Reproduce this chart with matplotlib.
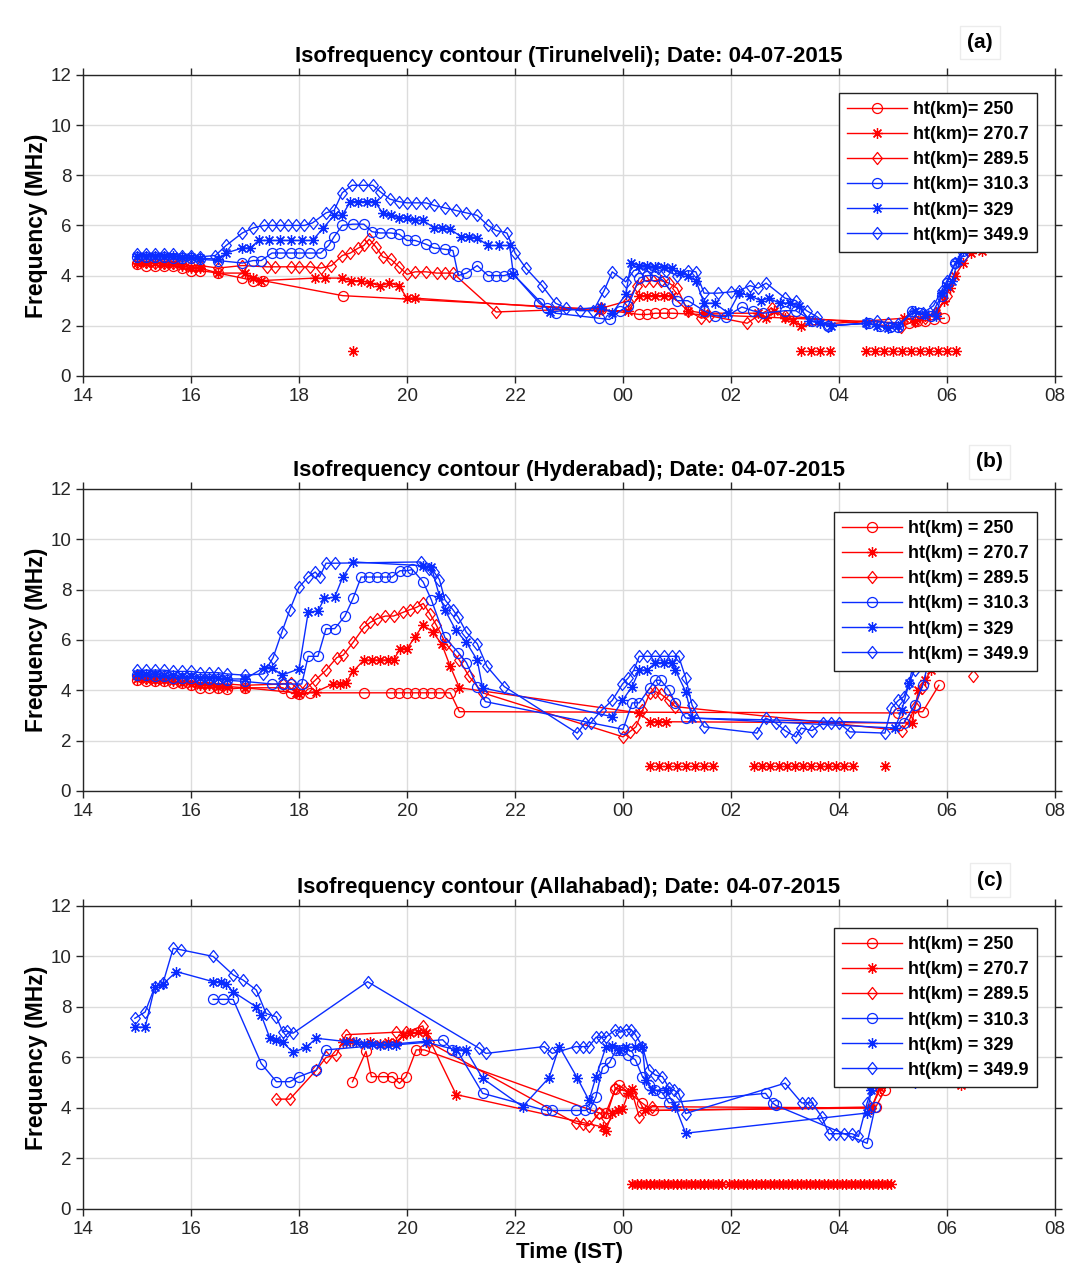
# Isofrequency contour plots for three stations, 04-07-2015
# three stacked panels, red = lower heights, blue = upper heights
##################################

# IMPORT STATEMENTS
##################################
import numpy as np
import matplotlib.pyplot as plt
from matplotlib.path import Path

# GLOBAL VARIABLES
###################################
RED = "#ff0000"
BLUE = "#0a2cff"
HEIGHTS = ["250", "270.7", "289.5", "310.3", "329", "349.9"]
XTICKS = [14, 16, 18, 20, 22, 24, 26, 28, 30, 32]
XTICKLABELS = ["14", "16", "18", "20", "22", "00", "02", "04", "06", "08"]
NAN = np.nan

# ---- panel (a) Tirunelveli ----
a_t250 = [15.0, 15.17, 15.33, 15.5, 15.67, 15.83, 16.0, 16.17, 16.5, 16.95, 17.15, 17.33, 18.81, 23.6,
          24.3, 24.45, 24.6, 24.75, 24.9, 29.3, 29.45, 29.6, 29.75, 29.95]
a_f250 = [4.45, 4.4, 4.4, 4.4, 4.4, 4.3, 4.2, 4.2, 4.1, 3.9, 3.8, 3.8, 3.2, 2.65,
          2.45, 2.45, 2.5, 2.5, 2.5, 2.1, 2.2, 2.2, 2.25, 2.3]
a_t270 = [15.0, 15.17, 15.33, 15.5, 15.67, 15.83, 16.0, 16.17, 16.5, 17.0, 17.15, 17.3, 18.3, 18.48,
          18.8, 18.97, 19.15, 19.32, 19.5, 19.67, 19.85, 20.0, 20.15, 23.55, 24.1, 24.3, 24.45, 24.6,
          24.75, 24.9, 25.2, 25.5, 26.5, 26.65, 26.8, 27.0, 27.15, 27.3, 29.2, 29.4, 29.6, 29.8,
          29.95, 30.05, 30.15, 30.3, 30.45, 30.65]
a_f270 = [4.5, 4.5, 4.5, 4.45, 4.45, 4.4, 4.3, 4.3, 4.1, 4.1, 3.9, 3.8, 3.9, 3.9,
          3.9, 3.8, 3.8, 3.7, 3.6, 3.7, 3.6, 3.1, 3.1, 2.6, 2.6, 3.2, 3.2, 3.2,
          3.2, 3.2, 2.6, 2.5, 2.5, 2.3, 2.6, 2.3, 2.2, 2.0, 2.3, 2.2, 2.4, 2.5,
          3.0, 3.5, 4.0, 4.5, 4.9, 5.0]
a_t289 = [15.0, 15.17, 15.33, 15.5, 15.67, 15.83, 16.0, 16.17, 16.5, 16.95, 17.4, 17.55, 17.85, 18.0,
          18.2, 18.4, 18.6, 18.8, 18.95, 19.1, 19.2, 19.3, 19.42, 19.55, 19.7, 19.85, 20.0, 20.15,
          20.35, 20.55, 20.7, 20.85, 21.65, 23.6, 24.1, 24.25, 24.4, 24.55, 24.7, 24.85, 25.0, 25.2,
          25.45, 25.6, 26.3, 26.5, 26.75, 27.0, 29.15, 29.4, 29.6, 29.8, 30.0]
a_f289 = [4.55, 4.55, 4.5, 4.5, 4.5, 4.45, 4.4, 4.4, 4.3, 4.4, 4.35, 4.35, 4.35, 4.35,
          4.35, 4.3, 4.4, 4.8, 4.9, 5.1, 5.2, 5.45, 5.15, 4.75, 4.65, 4.35, 4.05, 4.15,
          4.15, 4.1, 4.1, 4.1, 2.55, 2.7, 3.0, 3.6, 3.8, 3.8, 3.8, 3.7, 3.5, 2.6,
          2.3, 2.4, 2.1, 2.4, 2.7, 2.4, 1.95, 2.2, 2.3, 2.5, 3.2]
a_t310 = [15.0, 15.17, 15.33, 15.5, 15.67, 15.83, 16.0, 16.17, 16.5, 16.95, 17.15, 17.3, 17.5, 17.65,
          17.85, 18.0, 18.2, 18.4, 18.55, 18.65, 18.8, 19.0, 19.2, 19.35, 19.5, 19.7, 19.85, 20.0,
          20.15, 20.35, 20.5, 20.7, 20.85, 20.95, 21.1, 21.3, 21.5, 21.65, 21.8, 21.95, 22.45, 22.6,
          22.75, 23.55, 23.75, 23.95, 24.1, 24.3, 24.45, 24.6, 24.75, 25.0, 25.2, 25.5, 25.7, 25.9,
          26.2, 26.4, 26.6, 27.0, 27.2, 27.5, 27.8, 28.55, 28.75, 28.95, 29.1, 29.35, 29.5, 29.7,
          29.9, 30.0, 30.15, 30.3]
a_f310 = [4.75, 4.75, 4.75, 4.75, 4.7, 4.7, 4.7, 4.65, 4.6, 4.5, 4.6, 4.6, 4.9, 4.9,
          4.9, 4.9, 4.9, 4.9, 5.2, 5.55, 6.0, 6.05, 6.05, 5.75, 5.7, 5.7, 5.65, 5.4,
          5.4, 5.25, 5.1, 5.05, 5.0, 4.0, 4.1, 4.4, 4.0, 4.0, 4.0, 4.1, 2.9, 2.7,
          2.5, 2.3, 2.25, 2.6, 2.8, 3.9, 4.0, 4.0, 3.8, 3.0, 3.0, 2.6, 2.4, 2.35,
          2.75, 2.6, 2.5, 2.6, 2.6, 2.2, 2.0, 2.1, 2.0, 1.95, 1.95, 2.6, 2.5, 2.4,
          3.2, 3.7, 4.5, 5.0]
a_t329 = [15.0, 15.17, 15.33, 15.5, 15.67, 15.83, 16.0, 16.17, 16.5, 16.65, 16.95, 17.1, 17.25, 17.45,
          17.65, 17.85, 18.05, 18.25, 18.45, 18.65, 18.8, 18.95, 19.1, 19.25, 19.4, 19.55, 19.7, 19.85,
          20.0, 20.15, 20.3, 20.5, 20.65, 20.8, 21.0, 21.15, 21.3, 21.5, 21.7, 21.9, 21.97, 22.65,
          23.6, 23.8, 24.05, 24.15, 24.3, 24.45, 24.6, 24.75, 24.9, 25.05, 25.2, 25.35, 25.5, 25.7,
          25.95, 26.15, 26.35, 26.55, 26.7, 26.9, 27.1, 27.25, 27.45, 27.65, 27.85, 28.5, 28.7, 28.9,
          29.1, 29.4, 29.6, 29.8, 29.9, 30.0, 30.1, 30.2, 30.3]
a_f329 = [4.8, 4.8, 4.8, 4.8, 4.8, 4.75, 4.75, 4.7, 4.65, 4.9, 5.1, 5.1, 5.4, 5.4,
          5.4, 5.4, 5.4, 5.4, 5.9, 6.4, 6.4, 6.95, 6.95, 6.95, 6.95, 6.5, 6.4, 6.3,
          6.3, 6.2, 6.2, 5.9, 5.9, 5.85, 5.55, 5.55, 5.5, 5.2, 5.2, 5.2, 4.05, 2.55,
          2.75, 2.5, 3.25, 4.5, 4.4, 4.4, 4.35, 4.35, 4.3, 4.1, 4.0, 3.8, 2.9, 2.9,
          2.5, 3.3, 3.2, 3.0, 3.1, 2.9, 2.9, 2.8, 2.2, 2.1, 2.0, 2.1, 2.0, 1.9,
          2.0, 2.6, 2.45, 2.4, 3.3, 3.6, 3.8, 4.6, 5.0]
a_t349 = [15.0, 15.17, 15.33, 15.5, 15.67, 15.83, 16.0, 16.17, 16.45, 16.65, 16.95, 17.15, 17.35, 17.5,
          17.65, 17.8, 17.95, 18.1, 18.25, 18.5, 18.65, 18.8, 18.98, 19.18, 19.37, 19.5, 19.68, 19.85,
          20.0, 20.17, 20.35, 20.5, 20.7, 20.9, 21.1, 21.3, 21.5, 21.65, 21.85, 22.0, 22.2, 22.5,
          22.75, 22.95, 23.2, 23.45, 23.65, 23.8, 24.05, 24.2, 24.35, 24.5, 24.65, 24.8, 25.0, 25.2,
          25.35, 25.5, 25.75, 26.0, 26.15, 26.35, 26.5, 26.65, 27.0, 27.2, 27.4, 27.6, 27.8, 28.5,
          28.7, 28.9, 29.1, 29.35, 29.55, 29.75, 29.9, 30.0, 30.15, 30.3]
a_f349 = [4.85, 4.85, 4.85, 4.85, 4.85, 4.8, 4.8, 4.75, 4.8, 5.2, 5.7, 5.9, 6.0, 6.0,
          6.0, 6.0, 6.0, 6.0, 6.1, 6.5, 6.6, 7.3, 7.6, 7.6, 7.6, 7.35, 7.05, 6.95,
          6.9, 6.9, 6.9, 6.8, 6.7, 6.6, 6.5, 6.4, 6.0, 5.8, 5.7, 4.9, 4.3, 3.6,
          2.9, 2.7, 2.6, 2.6, 3.4, 4.15, 3.75, 4.2, 4.3, 4.3, 4.3, 4.2, 4.0, 4.2,
          4.15, 3.3, 3.3, 3.35, 3.4, 3.6, 3.5, 3.7, 3.1, 3.0, 2.6, 2.35, 2.0, 2.1,
          2.2, 2.1, 2.05, 2.5, 2.5, 2.8, 3.4, 3.8, 4.5, 4.8]
a_tlow = [19.0, 27.3, 27.48, 27.65, 27.83, 28.5, 28.67, 28.83, 29.0, 29.17, 29.33, 29.5, 29.67,
          29.83, 30.0, 30.17]

# ---- panel (b) Hyderabad ----
b_t250 = [15.0, 15.17, 15.33, 15.5, 15.67, 15.83, 16.0, 16.17, 16.33, 16.5, 16.67, 17.0, 17.7, 17.85,
          18.0, 18.2, 19.2, 19.7, 19.85, 20.0, 20.15, 20.3, 20.45, 20.6, 20.8, 20.97, 29.1, 29.55, 29.85]
b_f250 = [4.4, 4.35, 4.35, 4.35, 4.3, 4.3, 4.2, 4.1, 4.1, 4.1, 4.05, 4.1, 4.1, 3.9,
          3.85, 3.9, 3.9, 3.9, 3.9, 3.9, 3.9, 3.9, 3.9, 3.9, 3.9, 3.15, 3.1, 3.15, 4.2]
b_t270 = [15.0, 15.17, 15.33, 15.5, 15.67, 15.83, 16.0, 16.17, 16.33, 16.5, 16.67, 17.0, 17.95, 18.0,
          18.32, 18.63, 18.75, 18.87, 19.0, 19.2, 19.35, 19.5, 19.65, 19.75, 19.87, 20.0, 20.14, 20.3,
          20.48, 20.64, 20.8, 20.97, 24.3, 24.5, 24.65, 24.8, 29.35, 29.47, 29.6, 29.7]
b_f270 = [4.45, 4.45, 4.4, 4.4, 4.35, 4.3, 4.25, 4.2, 4.2, 4.15, 4.15, 4.1, 3.9, 3.85,
          3.95, 4.25, 4.25, 4.3, 4.75, 5.2, 5.2, 5.2, 5.2, 5.2, 5.65, 5.65, 6.1, 6.6,
          6.3, 5.85, 4.95, 4.1, 3.1, 2.75, 2.75, 2.75, 2.7, 4.0, 4.4, 4.8]
b_t289 = [15.0, 15.17, 15.33, 15.5, 15.67, 15.83, 16.0, 16.17, 16.33, 16.5, 16.67, 17.0, 17.7, 17.85,
          18.0, 18.15, 18.3, 18.5, 18.7, 18.82, 19.0, 19.2, 19.32, 19.45, 19.6, 19.75, 19.93, 20.05,
          20.18, 20.3, 20.42, 20.54, 20.72, 20.97, 21.15, 21.4, 24.0, 24.12, 24.24, 24.36, 24.5, 24.6,
          24.7, 24.85, 24.97, 29.16, 29.3, 29.41, 29.53, NAN, 30.49]
b_f289 = [4.55, 4.5, 4.5, 4.5, 4.45, 4.4, 4.35, 4.3, 4.3, 4.25, 4.25, 4.2, 4.25, 4.3,
          4.0, 4.1, 4.4, 4.8, 5.3, 5.4, 5.9, 6.5, 6.7, 6.85, 6.95, 6.95, 7.1, 7.2,
          7.3, 7.45, 7.05, 6.6, 5.85, 5.2, 4.55, 3.9, 2.15, 2.35, 2.55, 3.2, 3.9, 3.95,
          3.85, 3.6, 3.35, 2.4, 2.8, 3.35, 4.1, NAN, 4.57]
b_t310 = [15.0, 15.17, 15.33, 15.5, 15.67, 15.83, 16.0, 16.17, 16.33, 16.5, 16.67, 17.0, 17.5, 17.7,
          17.85, 18.05, 18.17, 18.35, 18.5, 18.66, 18.85, 19.0, 19.15, 19.3, 19.45, 19.6, 19.72, 19.87,
          20.0, 20.1, 20.3, 20.45, 20.7, 20.95, 21.1, 21.3, 21.45, 24.0, 24.17, 24.3, 24.5, 24.6,
          24.7, 24.85, 24.97, 25.16, 29.2, 29.4, 29.55, 29.7]
b_f310 = [4.6, 4.6, 4.55, 4.55, 4.5, 4.5, 4.5, 4.45, 4.45, 4.45, 4.4, 4.35, 4.25, 4.25,
          4.25, 4.25, 5.35, 5.35, 6.45, 6.45, 6.95, 7.65, 8.5, 8.5, 8.5, 8.5, 8.5, 8.75,
          8.75, 8.8, 8.3, 7.6, 6.1, 5.5, 5.1, 4.15, 3.55, 2.45, 3.5, 3.5, 4.1, 4.4,
          4.4, 4.0, 3.5, 2.9, 2.7, 3.4, 4.2, 5.5]
b_t329 = [15.0, 15.17, 15.33, 15.5, 15.67, 15.83, 16.0, 16.17, 16.33, 16.5, 16.67, 17.0, 17.35, 17.5,
          17.68, 18.0, 18.17, 18.35, 18.47, 18.66, 18.81, 19.0, 20.3, 20.45, 20.6, 20.7, 20.9, 21.1,
          21.3, 21.4, 23.8, 23.99, 24.17, 24.3, 24.45, 24.6, 24.75, 24.9, 24.97, 25.16, 25.28, 29.04,
          29.16, 29.3, 29.4, 29.5]
b_f329 = [4.65, 4.65, 4.65, 4.6, 4.6, 4.55, 4.55, 4.5, 4.5, 4.5, 4.45, 4.45, 4.9, 4.9,
          4.6, 4.85, 7.1, 7.15, 7.65, 7.7, 8.5, 9.1, 8.95, 8.9, 7.75, 7.2, 6.4, 5.9,
          5.2, 4.1, 2.95, 3.6, 4.15, 4.8, 4.8, 5.1, 5.1, 5.1, 4.8, 3.95, 2.9, 2.5,
          3.2, 4.3, 5.3, 6.5]
b_t349 = [15.0, 15.17, 15.33, 15.5, 15.67, 15.83, 16.0, 16.17, 16.33, 16.5, 16.67, 17.0, 17.34, 17.52,
          17.68, 17.83, 18.0, 18.17, 18.3, 18.38, 18.5, 18.66, 20.25, 20.4, 20.5, 20.6, 20.7, 20.85,
          20.95, 21.1, 21.3, 21.48, 21.8, 23.15, 23.3, 23.4, 23.6, 23.8, 23.99, 24.1, 24.2, 24.3,
          24.45, 24.6, 24.75, 24.9, 25.03, 25.16, 25.28, 25.5, 26.48, 26.64, 26.83, 27.0, 27.2, 27.3,
          27.5, 27.7, 27.85, 28.0, 28.2, 28.85, 28.97, 29.1, 29.2, 29.3, 29.4, 29.5]
b_f349 = [4.8, 4.8, 4.8, 4.8, 4.75, 4.75, 4.75, 4.7, 4.7, 4.7, 4.65, 4.6, 4.65, 5.3,
          6.3, 7.2, 8.1, 8.5, 8.7, 8.5, 9.05, 9.05, 9.1, 8.8, 8.7, 8.4, 7.6, 7.2,
          6.9, 6.3, 5.85, 4.95, 4.15, 2.3, 2.7, 2.7, 3.2, 3.6, 4.25, 4.5, 4.8, 5.35,
          5.35, 5.35, 5.35, 5.35, 5.35, 4.5, 3.4, 2.55, 2.3, 2.9, 2.7, 2.4, 2.15, 2.5,
          2.4, 2.7, 2.7, 2.7, 2.35, 2.3, 3.3, 3.6, 3.75, 4.3, 4.8, 5.5]
b_tlow = [24.5, 24.67, 24.83, 25.0, 25.17, 25.33, 25.5, 25.67, 26.42, 26.57, 26.72, 26.88, 27.03,
          27.18, 27.33, 27.48, 27.64, 27.79, 27.94, 28.1, 28.25, 28.85]

# ---- panel (c) Allahabad ----
c_t250 = [18.99, 19.24, 19.34, 19.55, 19.73, 19.86, 19.98, 20.17, 20.32, 23.56, 23.68, 23.86, 23.93,
          24.35, 24.55, 28.68, 28.85]
c_f250 = [5.04, 6.24, 5.24, 5.24, 5.24, 4.98, 5.24, 6.3, 6.3, 3.8, 3.8, 4.75, 4.9,
          4.2, 3.9, 4.04, 4.7]
c_t270 = [18.81, 18.95, 19.06, 19.31, 19.5, 19.65, 19.8, 19.93, 20.05, 20.2, 20.36, 20.91, 23.62,
          23.68, 23.8, 23.9, 23.99, 24.1, 24.17, 24.4, 28.6, 28.75, NAN, 30.26]
c_f270 = [6.6, 6.65, 6.6, 6.6, 6.55, 6.6, 6.6, 6.9, 6.95, 7.0, 6.95, 4.53, 3.25,
          3.1, 3.8, 3.9, 3.95, 4.6, 4.75, 3.9, 4.0, 4.8, NAN, 4.9]
c_t289 = [17.58, 17.83, 18.32, 18.5, 18.69, 18.87, 19.8, 19.99, 20.29, 20.41, 23.12, 23.25, 23.37,
          23.56, 23.68, 23.86, 24.0, 24.17, 24.3, 24.54, 28.6, 28.75]
c_f289 = [4.35, 4.35, 5.5, 6.0, 6.1, 6.9, 7.0, 7.0, 7.25, 6.6, 3.4, 3.35, 3.3,
          3.8, 3.6, 4.8, 4.7, 4.6, 3.65, 4.05, 4.0, 4.7]
c_t310 = [16.41, 16.6, 16.78, 17.3, 17.58, 17.83, 18.0, 18.32, 18.5, 20.66, 20.84, 20.95, 21.4,
          22.57, 22.69, 23.12, 23.3, 23.4, 23.5, 23.62, 23.75, 23.87, 23.99, 24.1, 24.23, 24.36,
          24.48, 24.6, 24.73, 24.85, 26.64, 26.77, 26.83, 28.52, 28.67]
c_f310 = [8.3, 8.3, 8.3, 5.76, 5.04, 5.04, 5.24, 5.5, 6.3, 6.7, 6.3, 6.2, 4.58,
          3.9, 3.9, 3.9, 3.9, 3.99, 4.45, 5.6, 5.8, 6.3, 6.3, 6.1, 5.9, 5.24,
          4.9, 4.7, 4.6, 4.2, 4.58, 4.2, 4.1, 2.6, 4.05]
c_t329 = [14.96, 15.15, 15.33, 15.48, 15.73, 16.41, 16.55, 16.65, 16.78, 17.21, 17.3, 17.46, 17.58,
          17.7, 17.89, 18.13, 18.32, 18.87, 19.05, 19.2, 19.35, 19.5, 19.65, 19.8, 20.36, 20.91,
          21.09, 21.4, 22.14, 22.63, 22.82, 23.15, 23.37, 23.5, 23.68, 23.8, 23.93, 24.05, 24.23,
          24.36, 24.42, 24.54, 24.79, 24.97, 25.16, 28.52, 28.6, 28.7, 29.4]
c_f329 = [7.2, 7.2, 8.8, 8.9, 9.4, 9.0, 9.0, 8.9, 8.6, 8.0, 7.68, 6.76, 6.7,
          6.6, 6.2, 6.4, 6.76, 6.63, 6.6, 6.55, 6.55, 6.5, 6.5, 6.5, 6.6, 6.3,
          6.3, 5.17, 4.05, 5.2, 6.43, 5.2, 4.3, 5.24, 6.4, 6.45, 6.3, 6.4, 6.4,
          6.4, 5.1, 4.7, 4.7, 4.05, 3.0, 3.8, 4.7, 5.0, 5.0]
c_t349 = [14.96, 15.15, 15.33, 15.48, 15.67, 15.82, 16.41, 16.78, 16.96, 17.21, 17.39, 17.58, 17.7,
          17.77, 17.89, 19.27, 21.34, 21.46, 22.54, 22.69, 23.12, 23.25, 23.37, 23.5, 23.6, 23.68,
          23.86, 23.95, 24.05, 24.15, 24.23, 24.36, 24.48, 24.6, 24.73, 24.85, 24.95, 25.03, 25.16,
          27.0, 27.31, 27.42, 27.5, 27.68, 27.81, 27.95, 28.1, 28.24, 28.36, 28.52, 28.61]
c_f349 = [7.55, 7.8, 8.8, 8.94, 10.32, 10.26, 10.0, 9.27, 9.07, 8.67, 7.74, 7.61, 7.0,
          7.05, 6.96, 9.0, 6.36, 6.16, 6.43, 6.16, 6.43, 6.43, 6.43, 6.8, 6.8, 6.8,
          7.1, 7.0, 7.1, 7.1, 6.9, 6.43, 5.5, 5.3, 5.24, 4.8, 4.7, 4.57, 3.78,
          4.98, 4.2, 4.2, 4.2, 3.65, 2.98, 2.98, 2.98, 2.98, 2.87, 4.2, 4.8]
c_tlow = [24.17, 24.25, 24.33, 24.42, 24.5, 24.58, 24.67, 24.75, 24.83, 24.92, 25.0, 25.08, 25.17,
          25.25, 25.33, 25.42, 25.5, 25.58, 25.67, 25.75, 25.83, 25.97, 26.05, 26.13, 26.22, 26.3,
          26.38, 26.47, 26.55, 26.63, 26.72, 26.8, 26.88, 26.97, 27.05, 27.13, 27.22, 27.3, 27.38,
          27.47, 27.55, 27.63, 27.72, 27.8, 27.88, 27.97, 28.05, 28.13, 28.22, 28.3, 28.38, 28.47,
          28.55, 28.63, 28.72, 28.8, 28.88, 28.97]
LOW_FREQ = 1.0

# MARKERS
###################################
ASTERISK = (8, 2, 0)
DIAMOND = Path([(0, 1), (0.8, 0), (0, -1), (-0.8, 0), (0, 1)],
               [Path.MOVETO, Path.LINETO, Path.LINETO, Path.LINETO, Path.CLOSEPOLY])
STYLES = [(RED, "o", 7.2), (RED, ASTERISK, 7.8), (RED, DIAMOND, 8.7),
          (BLUE, "o", 7.2), (BLUE, ASTERISK, 7.8), (BLUE, DIAMOND, 8.7)]

plt.rcParams["font.family"] = ["Liberation Sans", "DejaVu Sans"]


# function: drawPanel
# purpose:  draws one isofrequency panel with six height series, the
#           1 MHz marker row and a legend
def drawPanel(ax, series, low_t, title, sep, leg_top):
    for (t, f), (col, mk, ms), h in zip(series, STYLES, HEIGHTS):
        ax.plot(t, f, color=col, marker=mk, markersize=ms, markerfacecolor="none",
                markeredgecolor=col, markeredgewidth=0.9, linewidth=1.0,
                label="ht(km)" + sep + h)
    ax.plot(low_t, [LOW_FREQ] * len(low_t), linestyle="none", marker=ASTERISK,
            markersize=7.8, color=RED, markeredgewidth=0.9)

    ax.set_xlim(14, 32)
    ax.set_ylim(0, 12)
    ax.set_xticks(XTICKS)
    ax.set_xticklabels(XTICKLABELS)
    ax.set_yticks(range(0, 13, 2))
    ax.grid(True, color="#dcdcdc", linewidth=1.0)
    ax.set_axisbelow(True)
    ax.tick_params(direction="out", length=5, width=1, labelsize=13.5,
                   top=True, right=True, colors="#262626")
    for sp in ax.spines.values():
        sp.set_color("#262626")
        sp.set_linewidth(1.0)
    ax.set_title(title, fontsize=16, fontweight="bold", pad=9)
    ax.set_ylabel("Frequency (MHz)", fontsize=16.5, fontweight="bold", labelpad=2)

    leg = ax.legend(loc="upper right", bbox_to_anchor=(0.9815, leg_top), borderaxespad=0,
                    fancybox=False, edgecolor="#222222", framealpha=1,
                    prop={"weight": "bold", "size": 13}, handlelength=3.3,
                    handletextpad=0.35, labelspacing=0.45, borderpad=0.45)
    leg.get_frame().set_linewidth(1.0)


# MAIN SCRIPT
###################################
fig = plt.figure(figsize=(10.7, 12.83), dpi=100)

ax_a = fig.add_axes([0.0776, 0.707, 0.9084, 0.2346])
ax_b = fig.add_axes([0.0776, 0.3835, 0.9084, 0.2354])
ax_c = fig.add_axes([0.0776, 0.0577, 0.9084, 0.2362])

series_a = [(a_t250, a_f250), (a_t270, a_f270), (a_t289, a_f289),
            (a_t310, a_f310), (a_t329, a_f329), (a_t349, a_f349)]
series_b = [(b_t250, b_f250), (b_t270, b_f270), (b_t289, b_f289),
            (b_t310, b_f310), (b_t329, b_f329), (b_t349, b_f349)]
series_c = [(c_t250, c_f250), (c_t270, c_f270), (c_t289, c_f289),
            (c_t310, c_f310), (c_t329, c_f329), (c_t349, c_f349)]

drawPanel(ax_a, series_a, a_tlow, "Isofrequency contour (Tirunelveli); Date: 04-07-2015", "= ", 0.940)
drawPanel(ax_b, series_b, b_tlow, "Isofrequency contour (Hyderabad); Date: 04-07-2015", " = ", 0.924)
drawPanel(ax_c, series_c, c_tlow, "Isofrequency contour (Allahabad); Date: 04-07-2015", " = ", 0.927)
ax_c.set_xlabel("Time (IST)", fontsize=16, fontweight="bold", labelpad=3)

box = dict(facecolor="white", edgecolor="#ececec", boxstyle="square,pad=0.35")
fig.text(0.916, 0.967, "(a)", fontsize=15, fontweight="bold", ha="center", va="center", bbox=box)
fig.text(0.925, 0.640, "(b)", fontsize=15, fontweight="bold", ha="center", va="center", bbox=box)
fig.text(0.925, 0.314, "(c)", fontsize=15, fontweight="bold", ha="center", va="center", bbox=box)

fig.savefig("out.png", dpi=100)
